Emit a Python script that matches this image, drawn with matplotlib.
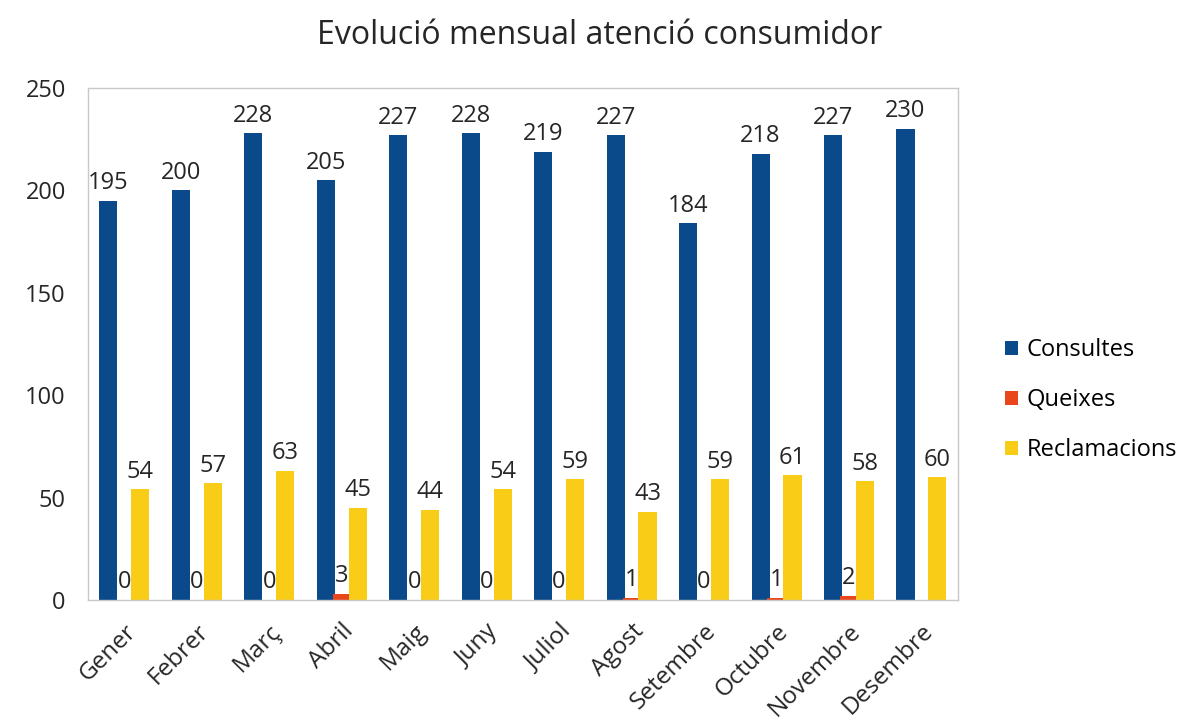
import numpy as np
import matplotlib.pyplot as plt

plt.rcParams.update({
    "font.family": ["Open Sans", "DejaVu Sans"],
    "font.size": 17,
})

mesos = ["Gener", "Febrer", "Març", "Abril", "Maig", "Juny", "Juliol",
         "Agost", "Setembre", "Octubre", "Novembre", "Desembre"]
consultes = [195, 200, 228, 205, 227, 228, 219, 227, 184, 218, 227, 230]
queixes = [0, 0, 0, 3, 0, 0, 0, 1, 0, 1, 2, np.nan]
reclamacions = [54, 57, 63, 45, 44, 54, 59, 43, 59, 61, 58, 60]

c_blue = "#0B4A8A"
c_red = "#E8471C"
c_yellow = "#F8CC17"

fig = plt.figure(figsize=(11.8, 7.2), dpi=100)
ax = fig.add_axes([0.0746, 0.1667, 0.737, 0.711])

x = np.arange(len(mesos))
w = 0.25
off = 0.22
b1 = ax.bar(x - off, consultes, w, color=c_blue, label="Consultes")
b2 = ax.bar(x, queixes, w, color=c_red, label="Queixes")
b3 = ax.bar(x + off, reclamacions, w, color=c_yellow, label="Reclamacions")

# etiquetes de valor (Desembre no té valor de queixes)
for bars, vals in [(b1, consultes), (b2, queixes), (b3, reclamacions)]:
    labels = ["" if np.isnan(v) else f"{int(v)}" for v in np.asarray(vals, float)]
    ax.bar_label(bars, labels=labels, padding=4, fontsize=17, color="#262626")

ax.set_xlim(-0.5, len(mesos) - 0.5)
ax.set_ylim(0, 250)
ax.set_yticks(range(0, 251, 50))
ax.set_xticks(x)
ax.set_xticklabels(mesos, rotation=45, ha="right", rotation_mode="anchor",
                   fontsize=17.5)
ax.tick_params(axis="both", length=0, colors="#262626")
ax.tick_params(axis="y", pad=16, labelsize=17)
ax.tick_params(axis="x", pad=14)
for s in ax.spines.values():
    s.set_color("#c8c8c8")
    s.set_linewidth(1)

fig.text(0.508, 0.951, "Evolució mensual atenció consumidor", ha="center",
         va="center", fontsize=23, color="#262626")

ax.legend(loc="center left", bbox_to_anchor=(1.03, 0.39), frameon=False,
          handlelength=0.55, handleheight=0.55, handletextpad=0.35,
          labelspacing=1.1, fontsize=17)

fig.savefig("out.png")
